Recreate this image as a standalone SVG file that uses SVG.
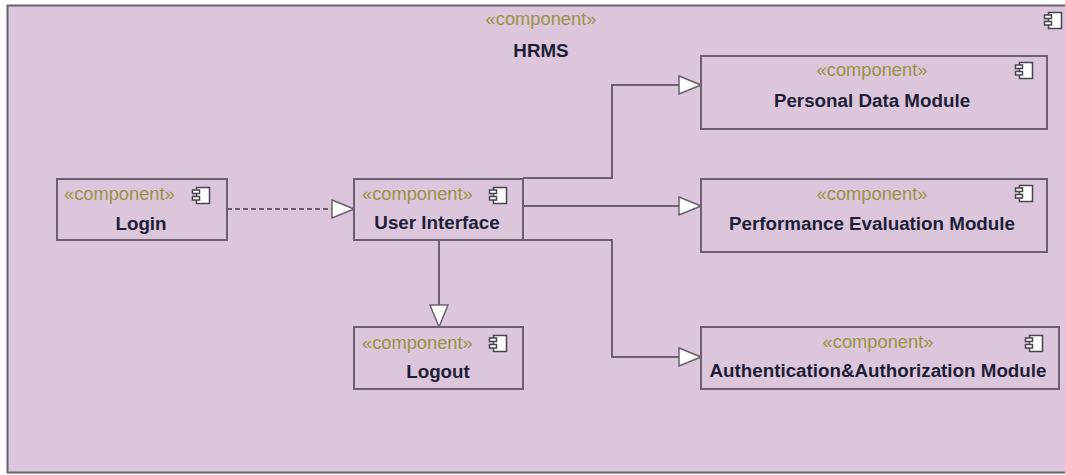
<svg xmlns="http://www.w3.org/2000/svg" xmlns:xlink="http://www.w3.org/1999/xlink" width="1065" height="475" viewBox="0 0 1065 475">
<style>
.box{fill:#dcc6dc;stroke:#6c6070;stroke-width:2}
.frame{fill:#dcc6dc;stroke:#6c6070;stroke-width:2}
.st{font-family:"Liberation Sans",Arial,sans-serif;font-size:18.3px;fill:#9a9244}
.nm{font-family:"Liberation Sans",Arial,sans-serif;font-size:18.8px;font-weight:bold;fill:#1e1e38}
.edge{fill:none;stroke:#6c6070;stroke-width:2}
.dash{stroke-dasharray:5,3}
.icon rect{fill:#ffffff;stroke:#4a4450;stroke-width:1.5}
</style>
<defs>
<marker id="tri" markerUnits="userSpaceOnUse" markerWidth="24" markerHeight="20" refX="23" refY="10" orient="auto" viewBox="0 0 24 20">
<path d="M1,1 L23,10 L1,19 Z" fill="#ffffff" stroke="#6c6070" stroke-width="1.5"/>
</marker>
<g id="cicon" class="icon">
<rect x="4.5" y="0.5" width="13" height="16"/>
<rect x="0.5" y="3" width="7" height="3.5"/>
<rect x="0.5" y="9.5" width="7" height="3.5"/>
</g>
</defs>
<g id="hrms">
<rect class="frame" x="7.5" y="5.5" width="1070" height="467"/>
<text class="st" x="541" y="25" text-anchor="middle">«component»</text>
<text class="nm" x="541" y="57" text-anchor="middle">HRMS</text>
<use xlink:href="#cicon" x="1044" y="12"/>
</g>
<g id="connectors">
<path class="edge dash" d="M227,209 L354,209" marker-end="url(#tri)"/>
<path class="edge" d="M523,178 L612,178 L612,85 L701,85" marker-end="url(#tri)"/>
<path class="edge" d="M523,206 L701,206" marker-end="url(#tri)"/>
<path class="edge" d="M523,240 L612,240 L612,357 L701,357" marker-end="url(#tri)"/>
<path class="edge" d="M439,240 L439,327" marker-end="url(#tri)"/>
</g>
<g id="login">
<rect class="box" x="57" y="179" width="170" height="61"/>
<text class="st" x="64" y="200">«component»</text>
<use xlink:href="#cicon" x="192" y="187"/>
<text class="nm" x="141" y="230" text-anchor="middle">Login</text>
</g>
<g id="user-interface">
<rect class="box" x="354" y="179" width="169" height="61"/>
<text class="st" x="362" y="200">«component»</text>
<use xlink:href="#cicon" x="489" y="187"/>
<text class="nm" x="437" y="229" text-anchor="middle">User Interface</text>
</g>
<g id="logout">
<rect class="box" x="354" y="327" width="169" height="62"/>
<text class="st" x="362" y="349">«component»</text>
<use xlink:href="#cicon" x="489" y="335"/>
<text class="nm" x="438" y="378" text-anchor="middle">Logout</text>
</g>
<g id="personal-data">
<rect class="box" x="701" y="56" width="346" height="73"/>
<text class="st" x="872" y="76" text-anchor="middle">«component»</text>
<use xlink:href="#cicon" x="1015" y="62"/>
<text class="nm" x="872" y="107" text-anchor="middle">Personal Data Module</text>
</g>
<g id="performance-evaluation">
<rect class="box" x="701" y="179" width="346" height="73"/>
<text class="st" x="872" y="200" text-anchor="middle">«component»</text>
<use xlink:href="#cicon" x="1015" y="185"/>
<text class="nm" x="872" y="230" text-anchor="middle">Performance Evaluation Module</text>
</g>
<g id="auth">
<rect class="box" x="701" y="327" width="358" height="62"/>
<text class="st" x="878" y="348" text-anchor="middle">«component»</text>
<use xlink:href="#cicon" x="1025" y="335"/>
<text class="nm" x="878" y="377" text-anchor="middle">Authentication&amp;Authorization Module</text>
</g>
</svg>
